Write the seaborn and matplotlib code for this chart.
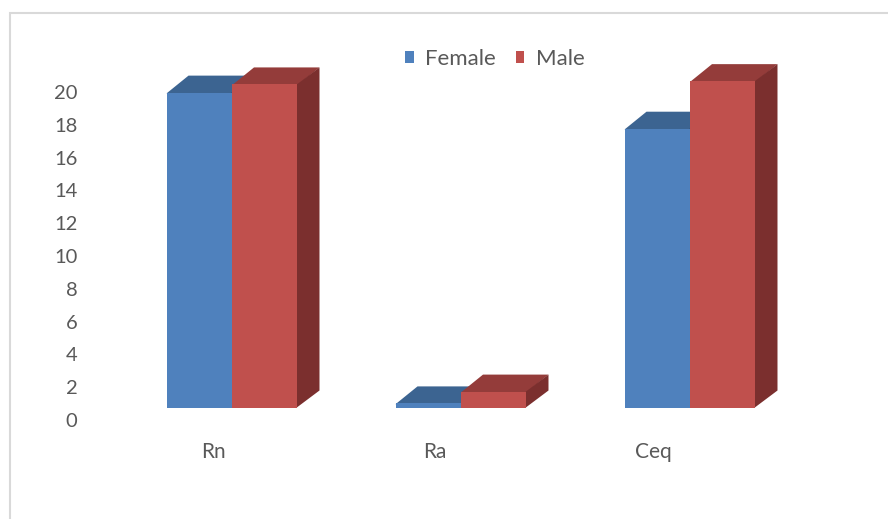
import pandas as pd
import seaborn as sns
import matplotlib.pyplot as plt
import matplotlib.transforms as mtransforms
from matplotlib.patches import Polygon, Rectangle, Patch

# values
categories = ['Rn', 'Ra', 'Ceq']
female = [19.2, 0.25, 17.0]
male = [19.7, 0.97, 19.9]
groups = ['Female', 'Male']
yticks = list(range(0, 21, 2))

front = {'Female': '#4F81BD', 'Male': '#C0504D'}
top = {'Female': '#3C6491', 'Male': '#943C3A'}
side = {'Female': '#2F4F76', 'Male': '#7B2F2E'}
txt = '#595959'

df = pd.DataFrame({
    'cat': categories * 2,
    'sex': ['Female'] * 3 + ['Male'] * 3,
    'val': female + male,
})

sns.set_style('white')
plt.rcParams['font.family'] = ['Lato', 'DejaVu Sans']

fig = plt.figure(figsize=(8.88, 5.19), dpi=100)
W, H = 888, 519
ax = fig.add_axes([117.5 / W, (H - 407.5) / H, 687 / W, 22 * 16.4 / H])

sns.barplot(data=df, x='cat', y='val', hue='sex', hue_order=groups,
            palette=front, saturation=1, width=0.572, linewidth=0,
            legend=False, ax=ax)
ax.set_xlim(-0.5, 2.5)
ax.set_ylim(0, 22)

# fake 3D: top and side faces from each bar
dx = 22 / 229
dy = 17 / 16.4
eps = 0.003  # small overlap so no white seam shows
bars = list(ax.patches)
for i, b in enumerate(bars):
    g = groups[i // 3]
    x0 = b.get_x()
    x1 = x0 + b.get_width()
    h = b.get_height()
    zf = 2 if g == 'Female' else 4
    b.set_zorder(zf)
    b.set_edgecolor('none')
    ax.add_patch(Polygon([(x0, h - 0.05), (x0 + dx, h + dy), (x1 + dx, h + dy), (x1, h - 0.05)],
                         closed=True, facecolor=top[g], edgecolor='none', zorder=zf - 1))
    ax.add_patch(Polygon([(x1 - eps, 0), (x1 + dx, dy), (x1 + dx, h + dy), (x1 - eps, h)],
                         closed=True, facecolor=side[g], edgecolor='none', zorder=zf - 1))

for s in ax.spines.values():
    s.set_visible(False)
ax.set_xticks([])
ax.set_yticks([])
ax.set(xlabel=None, ylabel=None)

# y labels sit a bit below the bar floor (3D back wall offset)
off = mtransforms.ScaledTranslation(-40 / 100, -14 / 100, fig.dpi_scale_trans)
for t in yticks:
    ax.text(0, t, str(t), transform=ax.get_yaxis_transform() + off,
            ha='right', va='center', fontsize=14.5, color=txt)

label_x = [-0.08, 0.886, 1.838]
offx = mtransforms.ScaledTranslation(0, -45 / 100, fig.dpi_scale_trans)
for lx, c in zip(label_x, categories):
    ax.text(lx, 0, c, transform=ax.transData + offx,
            ha='center', va='center', fontsize=15, color=txt)

handles = [Patch(facecolor=front[g], edgecolor='none') for g in groups]
fig.legend(handles, groups, loc='center', bbox_to_anchor=(494.5 / W, 1 - 59 / H),
           ncol=2, frameon=False, fontsize=16, labelcolor=txt,
           handlelength=0.4, handleheight=0.5, handletextpad=0.5,
           columnspacing=0.9)

fig.patches.append(Rectangle((9.5 / W, -0.1), 1.0, 1.1 - 12.5 / H, transform=fig.transFigure,
                             facecolor='none', edgecolor='#D9D9D9', linewidth=1.5))

fig.savefig('out.png', dpi=100)
